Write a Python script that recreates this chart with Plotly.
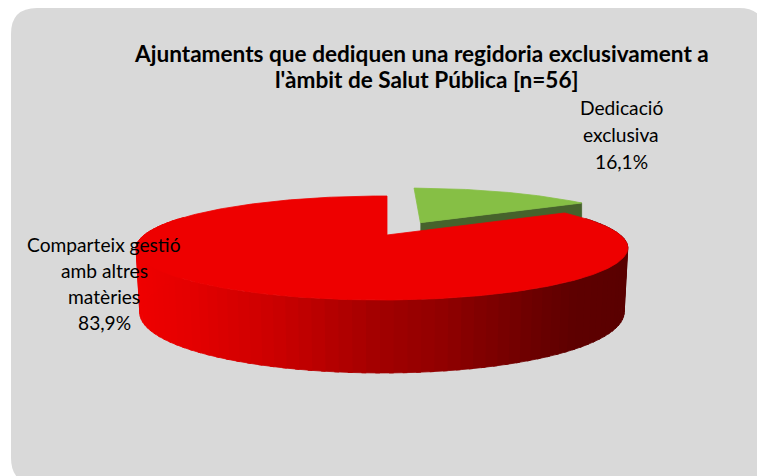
import numpy as np
import plotly.graph_objects as go

# --- data ---
categories = ["Dedicació exclusiva", "Comparteix gestió amb altres matèries"]
shares = [16.1, 83.9]
title_lines = ["Ajuntaments que dediquen una regidoria exclusivament a",
               "l'àmbit de Salut Pública [n=56]"]
label_lines_green = ["Dedicació", "exclusiva", "16,1%"]
label_lines_red = ["Comparteix gestió", "amb altres", "matèries", "83,9%"]

# --- styling / view geometry (pixel space of the 757x476 page) ---
W, H = 757, 476
GREY, TOP_RED, TOP_GREEN, SIDE_GREEN = "#d9d9d9", "#ee0000", "#86bf45", "#46622c"
CX, CY, RX, RY, KX, KY, TILT, DEPTH, KD, BOTTOM_SCALE, EXPLODE = 387, 235, 238, 48.75, 0.25, 0.25, 0.02, 62, 0.15, 0.985, 0.31
SIDE_STOPS_X = [135, 190, 270, 370, 440, 540, 575, 630]
SIDE_STOPS_R = [240, 228, 204, 165, 145, 106, 94, 90]


def project(u, v):
    wx = 1 + KX * v + TILT * u
    wy = 1 + KY * v + TILT * u
    return CX + RX * u / wx, CY - RY * v / wy, DEPTH / (1 + KD * v)


def bottom_x(x):
    return CX + (x - CX) * BOTTOM_SCALE


def wedge(start, end, offset=(0.0, 0.0), n=240):
    """Angles clockwise from 12 o'clock, in radians. Returns arc plane coordinates."""
    t = np.linspace(start, end, n)
    return offset[0] + np.sin(t), offset[1] + np.cos(t)


total = sum(shares)
green_angle = 2 * np.pi * shares[0] / total
mid = green_angle / 2
offset = (EXPLODE * np.sin(mid), EXPLODE * np.cos(mid))

fig = go.Figure()


def poly(x, y, color, line=True):
    fig.add_trace(go.Scatter(
        x=list(x), y=list(y), mode="lines", fill="toself", fillcolor=color,
        line=dict(color=color, width=0.8 if line else 0),
        hoverinfo="skip", showlegend=False))


# green slice: front wall (apex -> right corner), then its top face
gu, gv = wedge(0, green_angle, offset)
gx, gy, gd = project(gu, gv)
ax, ay, ad = project(np.array([offset[0]]), np.array([offset[1]]))
poly([ax[0], gx[-1], gx[-1], ax[0]], [ay[0], gy[-1], gy[-1] + gd[-1], ay[0] + ad[0]], SIDE_GREEN)
poly(np.r_[ax, gx, ax], np.r_[ay, gy, ay], TOP_GREEN)

# red slice: rim segments (gradient), then top face
ru, rv = wedge(green_angle, 2 * np.pi, n=361)
rx, ry, rd = project(ru, rv)
step = 3
for i in range(0, len(rx) - step, step):
    j = i + step + 1 if i + step + 1 < len(rx) else i + step
    if rv[i] > 0.35 and rv[j] > 0.35:
        continue
    r = np.interp((rx[i] + rx[j]) / 2, SIDE_STOPS_X, SIDE_STOPS_R)
    xs = np.r_[rx[i:j + 1], bottom_x(rx[i:j + 1])[::-1]]
    ys = np.r_[ry[i:j + 1], (ry + rd)[i:j + 1][::-1]]
    poly(xs, ys, f"rgb({int(r)},0,0)")
cx0, cy0, _ = project(np.array([0.0]), np.array([0.0]))
poly(np.r_[cx0, rx, cx0], np.r_[cy0, ry, cy0], TOP_RED)

# texts
anns = []
FONT = "Lato, Carlito, Calibri, sans-serif"
for line, y in zip(title_lines, [53.5, 79.5]):
    anns.append(dict(x=421.5 if y == 53.5 else 427, y=y, text=f"<b>{line}</b>", showarrow=False,
                     xanchor="center", yanchor="middle", font=dict(family=FONT, size=22.6, color="#000")))
for line, y in zip(label_lines_green, [107, 134, 161]):
    anns.append(dict(x=621, y=y, text=line, showarrow=False, xanchor="center", yanchor="middle",
                     font=dict(family=FONT, size=19.2, color="#000")))
for line, y in zip(label_lines_red, [244, 270, 296, 322]):
    anns.append(dict(x=104, y=y, text=line, showarrow=False, xanchor="center", yanchor="middle",
                     font=dict(family=FONT, size=19.2, color="#000")))

L, T, R_, B, C = 11, 8, 765, 484, 26
panel = (f"M{L + C},{T} L{R_ - C},{T} Q{R_},{T} {R_},{T + C} L{R_},{B - C} Q{R_},{B} {R_ - C},{B} "
         f"L{L + C},{B} Q{L},{B} {L},{B - C} L{L},{T + C} Q{L},{T} {L + C},{T} Z")

fig.update_layout(
    width=W, height=H, margin=dict(l=0, r=0, t=0, b=0),
    paper_bgcolor="#ffffff", plot_bgcolor="rgba(0,0,0,0)", showlegend=False,
    xaxis=dict(range=[0, W], visible=False, fixedrange=True),
    yaxis=dict(range=[H, 0], visible=False, fixedrange=True),
    shapes=[dict(type="path", path=panel, fillcolor=GREY, line=dict(width=0), layer="below")],
    annotations=anns)

fig.write_html("out.html", config=dict(displayModeBar=False),
               post_script="document.body.style.margin='0';document.body.style.overflow='hidden';")
